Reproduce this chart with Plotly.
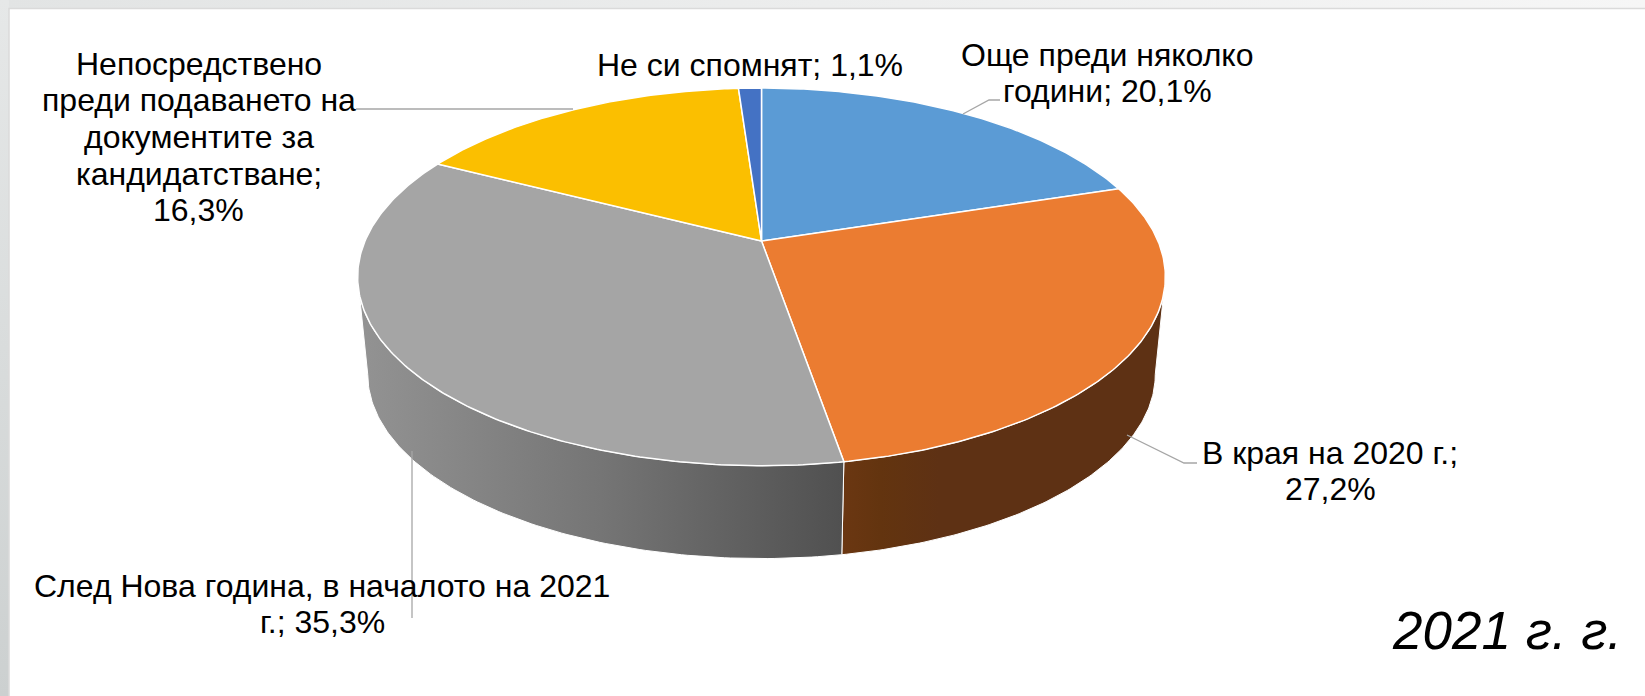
import numpy as np
import plotly.graph_objects as go

# ---- data ----
categories = ["Още преди няколко години", "В края на 2020 г.",
              "След Нова година, в началото на 2021 г.",
              "Непосредствено преди подаването на документите за кандидатстване",
              "Не си спомнят"]
values = [20.1, 27.2, 35.3, 16.3, 1.1]
label_lines = [["Още преди няколко", "години; 20,1%"],
               ["В края на 2020 г.;", "27,2%"],
               ["След Нова година, в началото на 2021", "г.; 35,3%"],
               ["Непосредствено", "преди подаването на", "документите за", "кандидатстване;", "16,3%"],
               ["Не си спомнят; 1,1%"]]
caption = "2021 г. г."

# ---- styles and layout ----
W, H = 1645, 696
top_colors = ["#5B9BD5", "#EB7C31", "#A5A5A5", "#FBBF00", "#4472C4"]
FONT = "Liberation Sans"
LABEL_SIZE = 32
LINE_STEP = 36.7
LEADER = "#A6A6A6"
CX, CY, A, B, P = 761.5, 241, 396.5, 182, 0.19   # projected top face
S, CY_B = 0.975, 339.5                           # projected bottom face
label_pos = [(1107, 73), (1330, 471), (322, 604), (198.5, 137), (750, 65)]
leaders = [[(963, 114), (989, 100), (1000, 100)],
           [(1127, 435), (1184, 463), (1197, 463)],
           [(412, 451), (412, 618)],
           [(356, 109), (573, 109)]]


def project(theta, cy=CY, s=1.0):
    u, v = np.sin(theta), np.cos(theta)
    w = 1 + P * v
    return CX + s * A * u / w, cy - s * B * v / w


def wall(t0, t1, **kw):
    t = np.linspace(t0, t1, 120)
    xt, yt = project(t)
    xb, yb = project(t[::-1], CY_B, S)
    return go.Scatter(x=np.r_[xt, xb, xt[0]], y=np.r_[yt, yb, yt[0]], mode="lines",
                      fill="toself", hoverinfo="skip", showlegend=False, **kw)


fig = go.Figure()

# window frame behind the chart
fig.add_trace(go.Scatter(x=[0, W, W, 0, 0], y=[0, 0, 8, 8, 0], mode="lines", fill="toself",
                         line=dict(width=0), hoverinfo="skip", showlegend=False,
                         fillgradient=dict(type="horizontal",
                                           colorscale=[[0, "#E2E4E4"], [1, "#F6F6F6"]])))
fig.add_trace(go.Scatter(x=[0, 9, 9, 0, 0], y=[0, 0, H, H, 0], mode="lines", fill="toself",
                         line=dict(width=0), hoverinfo="skip", showlegend=False,
                         fillgradient=dict(type="vertical",
                                           colorscale=[[0, "#CCD0D0"], [1, "#E6E8E8"]])))
fig.add_trace(go.Scatter(x=[9, 9, W], y=[H, 8.5, 8.5], mode="lines",
                         line=dict(color="#DADADA", width=1.5), hoverinfo="skip", showlegend=False))

edges = np.radians(np.r_[0, np.cumsum(values)] * 3.6)
tangent = np.arccos(-P)

# side walls of the visible front slices
fig.add_trace(wall(tangent, edges[2], line=dict(color="white", width=1),
                   fillgradient=dict(type="horizontal",
                                     colorscale=[[0, "#6B3712"], [0.12, "#63340F"], [0.3, "#5E3114"], [1, "#5E3114"]])))
fig.add_trace(wall(edges[2], 2 * np.pi - tangent, line=dict(color="white", width=1),
                   fillgradient=dict(type="horizontal",
                                     colorscale=[[0, "#939393"], [0.5, "#757575"], [1, "#505050"]])))

# top face slices
for i, col in enumerate(top_colors):
    t = np.linspace(edges[i], edges[i + 1], max(8, int(values[i] * 6)))
    x, y = project(t)
    fig.add_trace(go.Scatter(x=np.r_[CX, x, CX], y=np.r_[CY, y, CY], mode="lines", fill="toself",
                             fillcolor=col, line=dict(color="white", width=1.5),
                             name=categories[i], text=f"{values[i]}%", hoverinfo="name+text",
                             showlegend=False))

# leader lines
for pts in leaders:
    fig.add_trace(go.Scatter(x=[p[0] for p in pts], y=[p[1] for p in pts], mode="lines",
                             line=dict(color=LEADER, width=1.3), hoverinfo="skip", showlegend=False))

# data labels, one annotation per line to keep the tight line spacing
for lines, (x, y) in zip(label_lines, label_pos):
    for k, line in enumerate(lines):
        fig.add_annotation(x=x, y=y + (k - (len(lines) - 1) / 2) * LINE_STEP, text=line,
                           showarrow=False, xanchor="center", yanchor="middle", align="center",
                           font=dict(family=FONT, size=LABEL_SIZE, color="#000000"))
fig.add_annotation(x=1507, y=630, text=f"<i>{caption}</i>", showarrow=False, xanchor="center",
                   yanchor="middle", font=dict(family=FONT, size=53, color="#000000"))

fig.update_xaxes(range=[0, W], visible=False, fixedrange=True)
fig.update_yaxes(range=[H, 0], visible=False, fixedrange=True)
fig.update_layout(width=W, height=H, margin=dict(l=0, r=0, t=0, b=0),
                  paper_bgcolor="white", plot_bgcolor="white", showlegend=False)

fig.write_html("out.html", post_script="document.body.style.margin='0';document.body.style.overflow='hidden';",
               config={"displayModeBar": False})
